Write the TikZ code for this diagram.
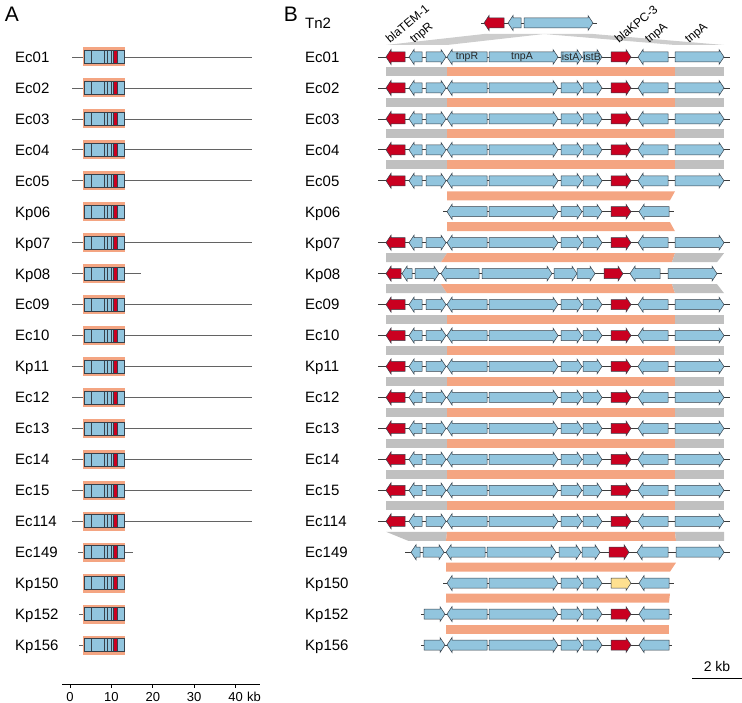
\documentclass[tikz,border=0pt]{standalone}
\usepackage{fontspec}
\setmainfont{Liberation Sans}
\definecolor{gblue}{RGB}{146,197,222}
\definecolor{gred}{RGB}{202,0,32}
\definecolor{gyel}{RGB}{254,224,144}
\definecolor{salm}{RGB}{244,165,130}
\definecolor{lgray}{RGB}{192,192,192}
\definecolor{edge}{RGB}{55,65,75}
\definecolor{bline}{RGB}{60,60,60}
\newcommand\geneR[4]{\filldraw[genestyle, fill=#4] (#1,#3-5) -- (#2-5,#3-5) -- (#2-5,#3-7.5) -- (#2,#3) -- (#2-5,#3+7.5) -- (#2-5,#3+5) -- (#1,#3+5) -- cycle;}
\newcommand\geneL[4]{\filldraw[genestyle, fill=#4] (#2,#3-5) -- (#1+5,#3-5) -- (#1+5,#3-7.5) -- (#1,#3) -- (#1+5,#3+7.5) -- (#1+5,#3+5) -- (#2,#3+5) -- cycle;}
\newcommand\bandq[6]{\fill[#1] (#3,#2-4.5) -- (#4,#2-4.5) -- (#6,#2+4.5) -- (#5,#2+4.5) -- cycle;}
\newcommand\stdrow[1]{%
 \draw[bb] (378,#1) -- (730,#1);
 \geneL{386}{405}{#1}{gred}
 \geneL{409}{422}{#1}{gblue}
 \geneR{426}{446}{#1}{gblue}
 \geneL{447}{487}{#1}{gblue}
 \geneR{489}{558}{#1}{gblue}
 \geneR{561}{582}{#1}{gblue}
 \geneR{583}{602}{#1}{gblue}
 \geneR{611}{631}{#1}{gred}
 \geneL{638}{668}{#1}{gblue}
 \geneR{675}{724}{#1}{gblue}}
\newcommand\coregenes[2]{%
 \geneL{447}{487}{#1}{gblue}
 \geneR{489}{558}{#1}{gblue}
 \geneR{561}{582}{#1}{gblue}
 \geneR{583}{602}{#1}{gblue}
 \geneR{611}{631}{#1}{#2}
 \geneL{639}{669}{#1}{gblue}}
\newcommand\abox[1]{%
 \fill[salm] (83,#1-9.5) rectangle (125,#1+9.5);
 \filldraw[fill=gblue, draw=edge, line width=0.6pt] (84,#1-6.5) rectangle (124,#1+6.5);
 \foreach \xx in {91,104,107.5,111} {\draw[edge, line width=0.6pt] (\xx,#1-6.5) -- (\xx,#1+6.5);}
 \filldraw[fill=gred, draw=edge, line width=0.6pt] (113,#1-6.5) rectangle (117,#1+6.5);}
\begin{document}
\begin{tikzpicture}[x=1pt,y=-1pt,
 genestyle/.style={draw=edge, line width=0.5pt, line join=miter},
 bb/.style={draw=bline, line width=0.7pt},
 aline/.style={draw=bline!80, line width=0.7pt},
 lab/.style={font=\fontsize{15}{17}\selectfont, inner sep=0pt},
 glab/.style={font=\fontsize{10.5}{12}\selectfont, inner sep=0pt, text=black!85},
 rlab/.style={font=\fontsize{12}{14}\selectfont, inner sep=0pt, anchor=base west, rotate=40},
 tlab/.style={font=\fontsize{13}{15}\selectfont, inner sep=0pt},
 ]
\useasboundingbox (0,0) rectangle (742,703);
% panel letters
\node[font=\fontsize{21}{24}\selectfont, inner sep=0pt] (pA) at (12,14) {A};
\node[font=\fontsize{21}{24}\selectfont, inner sep=0pt] (pB) at (291,14) {B};
% row labels
\foreach \i/\n in {0/Ec01,1/Ec02,2/Ec03,3/Ec04,4/Ec05,5/Kp06,6/Kp07,7/Kp08,8/Ec09,9/Ec10,10/Kp11,11/Ec12,12/Ec13,13/Ec14,14/Ec15,15/Ec114,16/Ec149,17/Kp150,18/Kp152,19/Kp156}{
 \pgfmathsetmacro\yy{57+30.95*\i}
 \node[lab, anchor=base west] (a\i) at (15,\yy+5.4) {\n};
 \node[lab, anchor=base west] (b\i) at (305,\yy+5.4) {\n};
}
\node[lab, anchor=base west] (tn2) at (305,28.4) {Tn2};
% ---------- panel A ----------
\foreach \i in {0,1,2,3,4,6,8,9,10,11,12,13,14,15}{
 \pgfmathsetmacro\yy{57+30.95*\i}
 \draw[aline] (72,\yy) -- (252,\yy);
}
\pgfmathsetmacro\yy{57+30.95*7}
\draw[aline] (72,\yy) -- (141,\yy);
\pgfmathsetmacro\yy{57+30.95*16}
\draw[aline] (78,\yy) -- (133,\yy);
\foreach \i in {18,19}{
 \pgfmathsetmacro\yy{57+30.95*\i}
 \draw[aline] (79,\yy) -- (84,\yy);
}
\foreach \i in {0,...,19}{
 \pgfmathsetmacro\yy{57+30.95*\i}
 \abox{\yy}
}
% axis
\draw[black, line width=0.8pt] (62,684) -- (260,684);
\foreach \k/\t in {0/0,1/10,2/20,3/30,4/40}{
 \draw[black, line width=0.8pt] (70+41.4*\k,684) -- (70+41.4*\k,688);
 \node[tlab, anchor=base] (ax\k) at (70+41.4*\k,701) {\t};
}
\node[tlab, anchor=base west] (axkb) at (247,701) {kb};
% ---------- panel B ----------
% Tn2 wedges
\fill[lgray!80] (484,34) -- (544,34) -- (447,45) -- (386,45) -- cycle;
\fill[lgray!80] (544,34) -- (593,34) -- (724,45) -- (675,45) -- cycle;
% bands
\foreach \i in {0,1,2,3,8,9,10,11,12,13,14}{
 \pgfmathsetmacro\yb{57+30.95*\i+15}
 \bandq{lgray}{\yb}{386}{447}{386}{447}
 \bandq{salm}{\yb}{447}{675}{447}{675}
 \bandq{lgray}{\yb}{675}{724}{675}{724}
}
\pgfmathsetmacro\yb{57+30.95*4+15}
\bandq{salm}{\yb}{447}{675}{447}{670}
\pgfmathsetmacro\yb{57+30.95*5+15}
\bandq{salm}{\yb}{447}{670}{447}{675}
\pgfmathsetmacro\yb{57+30.95*6+15}
\bandq{lgray}{\yb}{386}{447}{386}{441}
\bandq{salm}{\yb}{447}{675}{441}{672}
\bandq{lgray}{\yb}{675}{724}{672}{717}
\pgfmathsetmacro\yb{57+30.95*7+15}
\bandq{lgray}{\yb}{386}{441}{386}{447}
\bandq{salm}{\yb}{441}{672}{447}{675}
\bandq{lgray}{\yb}{672}{717}{675}{724}
\pgfmathsetmacro\yb{57+30.95*15+15}
\bandq{lgray}{\yb}{386}{447}{408}{446}
\bandq{salm}{\yb}{447}{675}{446}{676}
\bandq{lgray}{\yb}{675}{724}{676}{724}
\pgfmathsetmacro\yb{57+30.95*16+15}
\bandq{salm}{\yb}{446}{676}{446}{670}
\pgfmathsetmacro\yb{57+30.95*17+15}
\bandq{salm}{\yb}{446}{670}{446}{669}
\pgfmathsetmacro\yb{57+30.95*18+15}
\bandq{salm}{\yb}{446}{669}{446}{669}
% Tn2 row
\draw[bb] (481,23) -- (597,23);
\geneL{484}{504}{23}{gred}
\geneL{508}{521}{23}{gblue}
\geneR{524}{593}{23}{gblue}
% standard rows
\foreach \i in {0,1,2,3,4,6,8,9,10,11,12,13,14,15}{
 \pgfmathsetmacro\yy{57+30.95*\i}
 \stdrow{\yy}
}
% Kp06
\pgfmathsetmacro\yy{57+30.95*5}
\draw[bb] (443,\yy) -- (674,\yy);
\coregenes{\yy}{gred}
% Kp08
\pgfmathsetmacro\yy{57+30.95*7}
\draw[bb] (378,\yy) -- (722,\yy);
\geneL{386}{401}{\yy}{gred}
\geneL{402}{412}{\yy}{gblue}
\geneR{415}{439}{\yy}{gblue}
\geneL{441}{479}{\yy}{gblue}
\geneR{482}{552}{\yy}{gblue}
\geneR{554}{577}{\yy}{gblue}
\geneR{577}{595}{\yy}{gblue}
\geneR{604}{623}{\yy}{gred}
\geneL{630}{660}{\yy}{gblue}
\geneR{668}{717}{\yy}{gblue}
% Ec149
\pgfmathsetmacro\yy{57+30.95*16}
\draw[bb] (405,\yy) -- (730,\yy);
\geneL{411}{420}{\yy}{gblue}
\geneR{423}{444}{\yy}{gblue}
\geneL{446}{485}{\yy}{gblue}
\geneR{487}{556}{\yy}{gblue}
\geneR{559}{581}{\yy}{gblue}
\geneR{582}{600}{\yy}{gblue}
\geneR{609}{629}{\yy}{gred}
\geneL{637}{668}{\yy}{gblue}
\geneR{676}{724}{\yy}{gblue}
% Kp150
\pgfmathsetmacro\yy{57+30.95*17}
\draw[bb] (443,\yy) -- (674,\yy);
\coregenes{\yy}{gyel}
% Kp152, Kp156
\foreach \i in {18,19}{
 \pgfmathsetmacro\yy{57+30.95*\i}
 \draw[bb] (421,\yy) -- (672,\yy);
 \geneR{424}{445}{\yy}{gblue}
 \coregenes{\yy}{gred}
}
% gene labels in Ec01
\node[glab] (g1) at (467,57) {tnpR};
\node[glab] (g2) at (522,57) {tnpA};
\node[glab] (g3) at (570.5,57) {istA};
\node[glab] (g4) at (592,57) {istB};
% rotated labels
\node[rlab] (r1) at (390,44) {blaTEM-1};
\node[rlab] (r2) at (414,44) {tnpR};
\node[rlab] (r3) at (619,44) {blaKPC-3};
\node[rlab] (r4) at (649,44) {tnpA};
\node[rlab] (r5) at (689,44) {tnpA};
% scale bar
\draw[black, line width=0.8pt] (692,678) -- (742,678);
\node[font=\fontsize{14}{16}\selectfont, inner sep=0pt] (sb) at (717,666) {2 kb};
\end{tikzpicture}
\end{document}
